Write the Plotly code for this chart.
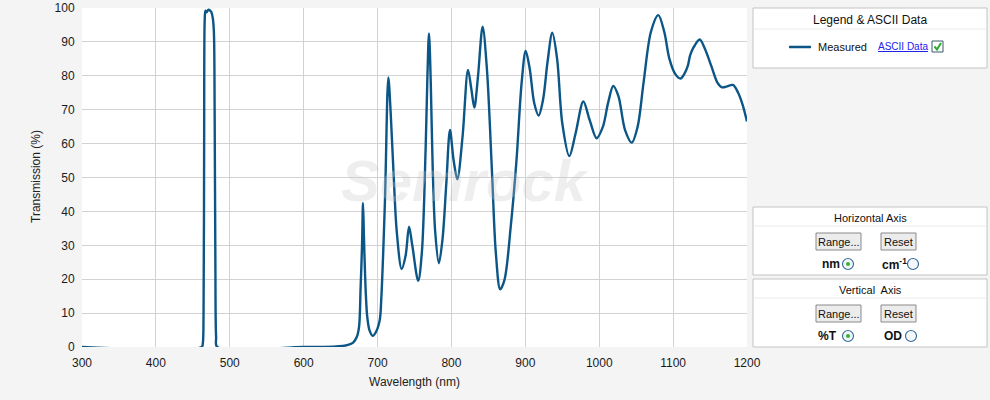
import plotly.graph_objects as go

# ---- data ----
wavelength = [300, 462, 463.5, 464.5, 465.3, 466, 467, 468.5, 470, 471.5, 473, 475, 477, 478.5,
              479.5, 480.5, 481.5, 483, 600, 640, 653, 660, 667, 672, 675, 677, 679, 680.3, 681.5,
              683, 684.5, 686, 689, 693.5, 698, 703, 705, 710, 714.6, 718, 721.5, 726, 732.6, 738,
              742.6, 747, 755, 760, 765, 767.5, 769.6, 772, 774.6, 778, 783, 788, 793, 798, 803,
              808, 815, 822.4, 827, 831, 836, 842.2, 848, 855, 860, 866, 872, 880, 888, 895, 900.5,
              906, 912, 918, 924, 930, 936.5, 943, 950, 959.5, 968, 978.5, 987, 996.5, 1005, 1012,
              1019, 1026, 1035, 1044, 1052, 1060, 1070, 1080, 1088, 1095, 1103, 1110, 1115, 1120,
              1123, 1128, 1136, 1143, 1152, 1160, 1166, 1172, 1181, 1188, 1194, 1200]
transmission = [0, 0, 1, 10, 60, 96, 99.2, 98.7, 99.2, 99.5, 99.3, 98.8, 97, 93,
                70, 25, 3, 0, 0, 0.1, 0.3, 0.6, 1.3, 3, 6, 17, 30, 42.5, 33,
                22, 14, 9, 5, 3.3, 4.5, 8, 14, 43, 79.5, 68, 52, 34, 23, 27,
                35.5, 30, 19.5, 28, 58, 80, 92.5, 78, 53, 34, 24.7, 32, 48, 64, 55,
                49.5, 62, 81.7, 76, 70.6, 80, 94.5, 82, 51, 28, 17, 20, 35, 55, 78, 87.3,
                82, 72, 68.3, 73, 84, 92.7, 85, 66, 56.3, 63, 72.4, 67, 61.6, 65, 72,
                77, 74, 64, 60.3, 65, 78, 93, 97.9, 93, 85, 80.5, 79.2, 80.5, 83,
                86, 88.5, 90.7, 88, 82.7, 78, 76.6, 76.8, 77.3, 75, 71.5, 66.5]
x_ticks = [300, 400, 500, 600, 700, 800, 900, 1000, 1100, 1200]
y_ticks = [0, 10, 20, 30, 40, 50, 60, 70, 80, 90, 100]
series_name = "Measured"

LINE = "#0b5687"
FONT = "Liberation Sans, Arial, sans-serif"

L, R, T, B = 82, 747, 8, 347
def X(px):
    return (px - L) / (R - L)
def Y(py):
    return (B - py) / (B - T)

fig = go.Figure()
fig.add_trace(go.Scatter(x=wavelength, y=transmission, mode="lines", name=series_name,
                         line=dict(color=LINE, width=2.4, shape="spline", smoothing=0.9),
                         showlegend=False))

shapes = []
annotations = []

# watermark
annotations.append(dict(x=X(465), y=Y(180), xref="paper", yref="paper", text="<b><i>Semrock</i></b>",
                        showarrow=False, xanchor="center", yanchor="middle",
                        font=dict(family=FONT, size=58, color="rgba(200,200,200,0.3)")))

# axis titles
annotations.append(dict(x=X(414), y=Y(382), xref="paper", yref="paper", text="Wavelength (nm)",
                        showarrow=False, xanchor="center", yanchor="middle",
                        font=dict(family=FONT, size=12, color="#222")))
annotations.append(dict(x=X(36), y=Y(177), xref="paper", yref="paper", text="Transmission (%)",
                        textangle=-90, showarrow=False, xanchor="center", yanchor="middle",
                        font=dict(family=FONT, size=12, color="#222")))

# panels
def box(x0, y0, x1, y1, fill="white", line="#c4c4c4", w=1):
    shapes.append(dict(type="rect", xref="paper", yref="paper", x0=X(x0), x1=X(x1), y0=Y(y1), y1=Y(y0),
                       fillcolor=fill, line=dict(color=line, width=w), layer="above"))

def hline(x0, x1, y, color="#ececec"):
    shapes.append(dict(type="line", xref="paper", yref="paper", x0=X(x0), x1=X(x1), y0=Y(y), y1=Y(y),
                       line=dict(color=color, width=1)))

def text(px, py, s, size=12, color="#111", bold=False, xanchor="center"):
    if bold:
        s = "<b>" + s + "</b>"
    annotations.append(dict(x=X(px), y=Y(py), xref="paper", yref="paper", text=s, showarrow=False,
                            xanchor=xanchor, yanchor="middle",
                            font=dict(family=FONT, size=size, color=color)))

def radio(cx, cy, on):
    r = 5.5
    shapes.append(dict(type="circle", xref="paper", yref="paper", x0=X(cx - r), x1=X(cx + r),
                       y0=Y(cy + r), y1=Y(cy - r), fillcolor="#f4f8fb",
                       line=dict(color="#3a6d9a", width=1.2), layer="above"))
    if on:
        d = 2
        shapes.append(dict(type="circle", xref="paper", yref="paper", x0=X(cx - d), x1=X(cx + d),
                           y0=Y(cy + d), y1=Y(cy - d), fillcolor="#2fb52f",
                           line=dict(color="#2fb52f", width=0), layer="above"))

def button(x0, y0, x1, y1, label):
    shapes.append(dict(type="rect", xref="paper", yref="paper", x0=X(x0), x1=X(x1), y0=Y(y1), y1=Y(y0),
                       fillcolor="#ececec", line=dict(color="#8a8a8a", width=1), layer="above"))
    text((x0 + x1) / 2, (y0 + y1) / 2, label, size=11, color="#111")

# Legend panel
box(753, 8, 987, 68)
hline(754, 986, 29)
text(870, 20, "Legend & ASCII Data", size=12)
shapes.append(dict(type="line", xref="paper", yref="paper", x0=X(789), x1=X(811), y0=Y(47), y1=Y(47),
                   line=dict(color=LINE, width=2.5)))
text(816, 47, series_name, size=11, xanchor="left")
text(876, 47, "<u>ASCII Data</u>", size=10, color="#2020ee", xanchor="left")
box(932, 41, 943, 52, fill="white", line="#3a5a6a")
shapes.append(dict(type="path", xref="paper", yref="paper",
                   path=f"M {X(934.5)},{Y(46.5)} L {X(937)},{Y(49.5)} L {X(941)},{Y(43)}",
                   line=dict(color="#2faa2f", width=2), layer="above"))

# Horizontal axis panel
box(753, 207, 987, 275)
hline(754, 986, 226)
text(870, 218, "Horizontal Axis", size=11)
button(816, 233, 861, 250, "Range...")
button(881, 233, 916, 250, "Reset")
text(831, 264, "nm", size=12, bold=True)
radio(848, 264, True)
text(894, 264, "cm<sup>-1</sup>", size=12, bold=True)
radio(913, 264, False)

# Vertical axis panel
box(753, 279, 987, 347)
hline(754, 986, 298)
text(870, 290, "Vertical  Axis", size=11)
button(816, 305, 861, 322, "Range...")
button(881, 305, 916, 322, "Reset")
text(827, 336, "%T", size=12, bold=True)
radio(848, 336, True)
text(893, 336, "OD", size=12, bold=True)
radio(911, 336, False)

fig.update_layout(
    width=990, height=400,
    margin=dict(l=L, r=990 - R, t=T, b=400 - B, autoexpand=False),
    paper_bgcolor="#f4f4f4", plot_bgcolor="white",
    shapes=shapes, annotations=annotations,
    font=dict(family=FONT, size=12, color="#1a1a1a"),
)
fig.update_xaxes(range=[300, 1200], tickvals=x_ticks, showgrid=True, gridcolor="#d2d2d2", gridwidth=1,
                 zeroline=False, showline=False, ticks="outside", ticklen=5, tickcolor="rgba(0,0,0,0)",
                 automargin=False, tickfont=dict(size=12, color="#1a1a1a"))
fig.update_yaxes(range=[0, 100], tickvals=y_ticks, showgrid=True, gridcolor="#d2d2d2", gridwidth=1,
                 zeroline=False, showline=False, ticks="outside", ticklen=4, tickcolor="rgba(0,0,0,0)",
                 automargin=False, tickfont=dict(size=12, color="#1a1a1a"))

fig.write_html("out.html")
